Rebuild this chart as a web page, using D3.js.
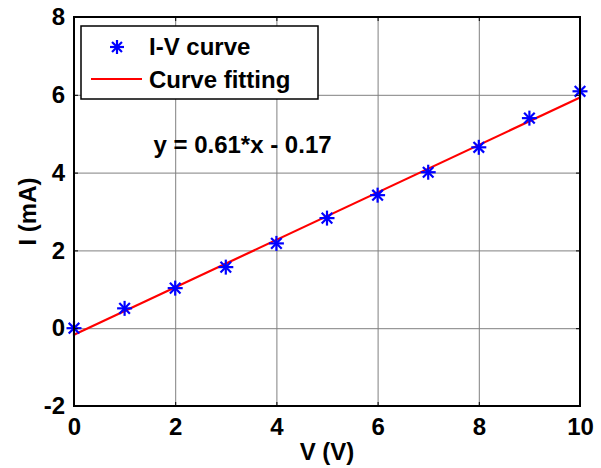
<!DOCTYPE html>
<html>
<head>
<meta charset="utf-8">
<script src="https://cdn.jsdelivr.net/npm/d3@7"></script>
<style>
  body { margin: 0; background: #fff; }
  svg text { font-family: Arial, "Liberation Sans", sans-serif; font-weight: bold; }
</style>
</head>
<body>
<svg id="chart" width="601" height="468"></svg>
<script>
// measured I-V points
const voltage = [0, 1, 2, 3, 4, 5, 6, 7, 8, 9, 10];
const current = [0.0, 0.51, 1.03, 1.57, 2.18, 2.83, 3.42, 4.01, 4.65, 5.40, 6.09];
// linear fit  y = slope*x + intercept
const slope = 0.61;
const intercept = -0.17;
const xTicks = [0, 2, 4, 6, 8, 10];
const yTicks = [-2, 0, 2, 4, 6, 8];
const legendLabels = ["I-V curve", "Curve fitting"];

const svg = d3.select("svg#chart");
const margin = {left: 74, right: 21, top: 17, bottom: 62};
const width = 601 - margin.left - margin.right;
const height = 468 - margin.top - margin.bottom;

const x = d3.scaleLinear().domain([0, 10]).range([0, width]);
const y = d3.scaleLinear().domain([-2, 8]).range([height, 0]);

const g = svg.append("g")
    .attr("transform", "translate(" + margin.left + "," + margin.top + ")");

// grid lines
g.append("g")
    .attr("class", "grid")
    .attr("transform", "translate(0," + height + ")")
    .call(d3.axisBottom(x).tickValues(xTicks).tickSize(-height).tickFormat(""))
    .call(s => s.select(".domain").remove())
    .selectAll("line").attr("stroke", "#808080").attr("stroke-width", 1);

g.append("g")
    .attr("class", "grid")
    .call(d3.axisLeft(y).tickValues(yTicks).tickSize(-width).tickFormat(""))
    .call(s => s.select(".domain").remove())
    .selectAll("line").attr("stroke", "#808080").attr("stroke-width", 1);

// fitted line
const fitLine = d3.line()
    .x(d => x(d))
    .y(d => y(slope * d + intercept));

g.append("path")
    .datum([0, 10])
    .attr("d", fitLine)
    .attr("fill", "none")
    .attr("stroke", "#ff0000")
    .attr("stroke-width", 2.2);

// asterisk markers
function star(sel, r) {
  [0, 45, 90, 135].forEach(function(a) {
    sel.append("line")
      .attr("x1", -r).attr("x2", r).attr("y1", 0).attr("y2", 0)
      .attr("transform", "rotate(" + a + ")")
      .attr("stroke", "#0000ff")
      .attr("stroke-width", 2.2);
  });
}

g.selectAll("g.pt")
  .data(voltage)
  .enter().append("g")
    .attr("class", "pt")
    .attr("transform", (d, i) => "translate(" + x(d) + "," + y(current[i]) + ")")
    .each(function() { star(d3.select(this), 7.5); });

// axes box
g.append("rect")
    .attr("width", width).attr("height", height)
    .attr("fill", "none").attr("stroke", "#000").attr("stroke-width", 2);

// inward ticks + labels (plain hyphen for negatives, like the original)
const fmt = d => String(d);
const xAxis = g.append("g")
    .attr("transform", "translate(0," + height + ")")
    .call(d3.axisBottom(x).tickValues(xTicks).tickFormat(fmt).tickSizeInner(-4).tickSizeOuter(0).tickPadding(12));
const yAxis = g.append("g")
    .call(d3.axisLeft(y).tickValues(yTicks).tickFormat(fmt).tickSizeInner(-4).tickSizeOuter(0).tickPadding(9));
g.append("g")
    .call(d3.axisTop(x).tickValues(xTicks).tickSizeInner(-4).tickSizeOuter(0).tickFormat(""));
g.append("g")
    .attr("transform", "translate(" + width + ",0)")
    .call(d3.axisRight(y).tickValues(yTicks).tickSizeInner(-4).tickSizeOuter(0).tickFormat(""));

g.selectAll(".domain").remove();
g.selectAll(".tick line").filter(function() { return this.parentNode.parentNode.getAttribute("class") !== "grid"; })
    .attr("stroke", "#000");

[xAxis, yAxis].forEach(function(a) {
  a.selectAll("text")
    .attr("font-size", 24)
    .attr("font-family", "Arial, 'Liberation Sans', sans-serif")
    .attr("font-weight", "bold")
    .attr("fill", "#000");
});

// equation text
g.append("text")
    .attr("x", x(1.57))
    .attr("y", y(4.5))
    .attr("font-size", 24)
    .text("y = " + slope + "*x - " + Math.abs(intercept));

// axis titles
svg.append("text")
    .attr("x", margin.left + width / 2)
    .attr("y", 460)
    .attr("text-anchor", "middle")
    .attr("font-size", 24)
    .text("V (V)");

svg.append("text")
    .attr("transform", "translate(36," + (margin.top + height / 2) + ") rotate(-90)")
    .attr("text-anchor", "middle")
    .attr("font-size", 24)
    .text("I (mA)");

// legend
const legend = svg.append("g").attr("transform", "translate(81,26)");
legend.append("rect")
    .attr("width", 237).attr("height", 73)
    .attr("fill", "#fff").attr("stroke", "#000").attr("stroke-width", 1.5);

const lg1 = legend.append("g").attr("transform", "translate(36,21)");
star(lg1, 7);
legend.append("line")
    .attr("x1", 10).attr("x2", 61).attr("y1", 53).attr("y2", 53)
    .attr("stroke", "#ff0000").attr("stroke-width", 2.2);

legend.selectAll("text.leg")
  .data(legendLabels)
  .enter().append("text")
    .attr("class", "leg")
    .attr("x", 68)
    .attr("y", (d, i) => 29 + i * 33)
    .attr("font-size", 24)
    .text(d => d);
</script>
</body>
</html>
